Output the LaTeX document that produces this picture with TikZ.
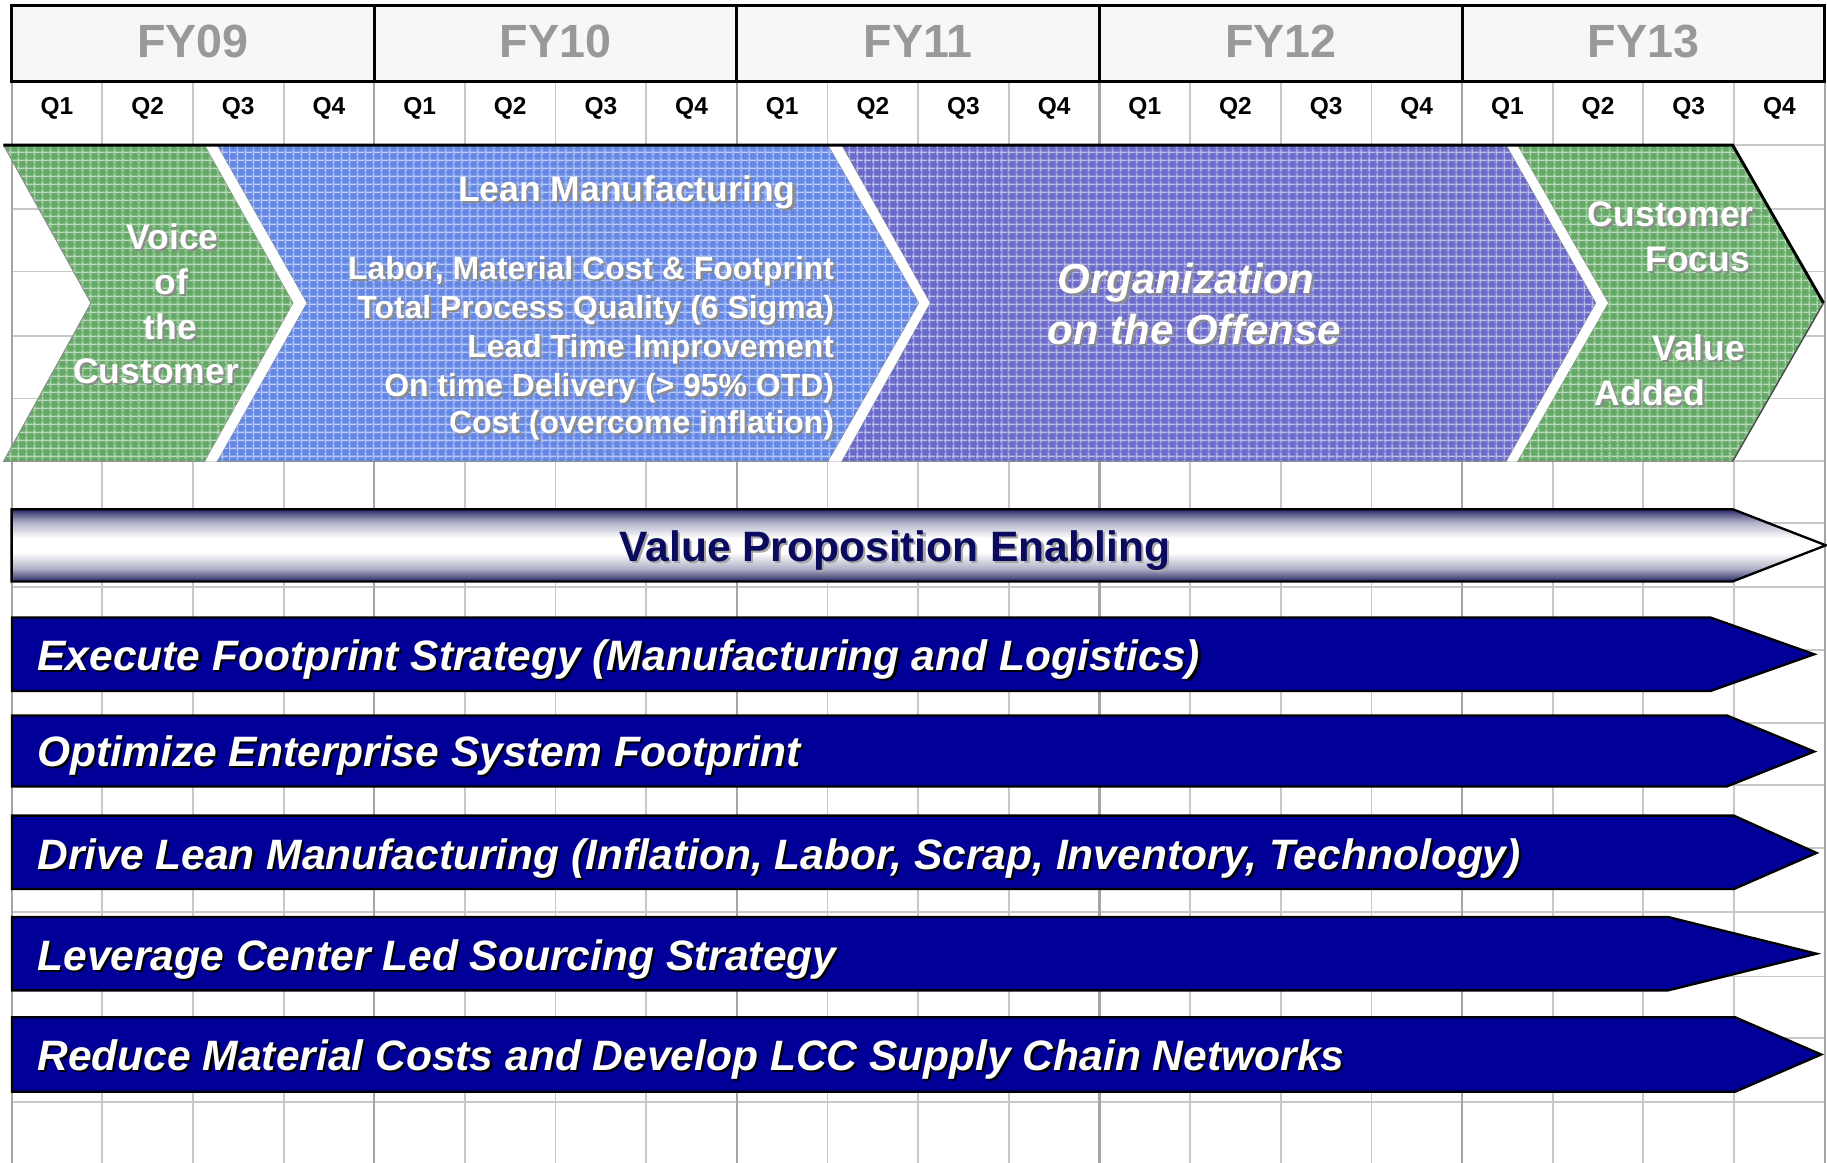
\documentclass[tikz,border=0pt]{standalone}
\usepackage{fontspec}
\setmainfont{Liberation Sans}
\usetikzlibrary{patterns.meta}

\definecolor{gridc}{HTML}{C8C8C8}
\definecolor{yearc}{HTML}{A8A4A0}
\definecolor{hdrfill}{HTML}{F7F7F7}
\definecolor{fygray}{HTML}{999999}
\definecolor{chgreen}{HTML}{64AA66}
\definecolor{chblue}{HTML}{6487E4}
\definecolor{chpurple}{HTML}{6A6ACB}
\definecolor{barblue}{HTML}{000099}
\definecolor{navytxt}{HTML}{0A0A5E}
\definecolor{vpedark}{HTML}{202060}

\pgfdeclareverticalshading{vpeshade}{100bp}{color(0bp)=(vpedark); color(25bp)=(vpedark); color(28bp)=(vpedark!75!white); color(34bp)=(vpedark!35!white); color(45bp)=(white); color(55bp)=(white); color(66bp)=(vpedark!35!white); color(72bp)=(vpedark!75!white); color(75bp)=(vpedark); color(100bp)=(vpedark)}

\newcommand\fsz[1]{\fontsize{#1}{#1}\selectfont}
% name, position, style, shadow colour, text
\newcommand\shtext[5]{%
  \node[#3, text=#4, xshift=1.8pt, yshift=-1.8pt] (#1s) at #2 {#5};
  \node[#3] (#1) at #2 {#5};}

\tikzset{
  gridline/.style={draw=gridc, line width=1.6pt},
  yearline/.style={draw=yearc, line width=1.8pt},
  fylabel/.style={font=\fsz{40}\bfseries, text=fygray, anchor=base, inner sep=0pt},
  qlabel/.style={font=\fsz{21}\bfseries, text=black, anchor=base, inner sep=0pt},
  chtxt/.style={font=\fsz{30.5}\bfseries, text=white, anchor=base, inner sep=0pt},
  leantxt/.style={font=\fsz{27.4}\bfseries, text=white, anchor=base east, inner sep=0pt},
  orgtxt/.style={font=\fsz{36}\bfseries\itshape, text=white, anchor=base, inner sep=0pt},
  bartxt/.style={font=\fsz{36.5}\bfseries\itshape, text=white, anchor=base west, inner sep=0pt},
  vpetxt/.style={font=\fsz{36.5}\bfseries, text=navytxt, anchor=base, inner sep=0pt},
  barshape/.style={fill=barblue, draw=black, line width=2pt, line join=miter},
  chevedge/.style={draw=black!45, line width=0.8pt},
}

\def\chevGA{(3,124.5) -- (176,124.5) -- (252,260) -- (176,396) -- (3,396) -- (78,260) -- cycle}
\def\chevBA{(186,124.5) -- (711,124.5) -- (789,260) -- (711,396) -- (186,396) -- (263,260) -- cycle}
\def\chevPA{(722,124.5) -- (1293,124.5) -- (1370,260) -- (1293,396) -- (722,396) -- (798,260) -- cycle}
\def\chevGB{(1302,124.5) -- (1487,124.5) -- (1565,260) -- (1487,396) -- (1302,396) -- (1380,260) -- cycle}

\begin{document}
\begin{tikzpicture}[x=1pt,y=-1pt]
\useasboundingbox (0,0) rectangle (1568,998);
\fill[white] (0,0) rectangle (1568,998);

% ---- spreadsheet grid ----
\foreach \y in {124.5,179,233,288,342,396,448.6,503.5,558,620.8,673.7,728,782.5,838,891,945.5}
  \draw[gridline] (10,\y) -- (1566,\y);
\foreach \i in {0,...,20}
  \draw[gridline] ({10+77.8*\i},70) -- ({10+77.8*\i},998);
\foreach \i in {0,4,...,20}
  \draw[yearline] ({10+77.8*\i},70) -- ({10+77.8*\i},998);

% ---- header ----
\draw[fill=hdrfill, draw=black, line width=2.5pt] (10,5) rectangle (1566,70);
\foreach \i in {1,2,3,4}
  \draw[black, line width=2.5pt] ({10+311.2*\i},5) -- ({10+311.2*\i},70);
\node[fylabel] (fy09) at (165.6,49) {FY09};
\node[fylabel] (fy10) at (476.8,49) {FY10};
\node[fylabel] (fy11) at (788.0,49) {FY11};
\node[fylabel] (fy12) at (1099.2,49) {FY12};
\node[fylabel] (fy13) at (1410.4,49) {FY13};
\foreach \i in {0,...,19}{
  \pgfmathtruncatemacro\qq{mod(\i,4)+1}
  \node[qlabel] (q\i) at ({10+77.8*(\i+0.5)},98.5) {Q\qq};
}

% ---- chevrons ----
\fill[chgreen] \chevGA;
\fill[pattern={Lines[distance=6.9pt,angle=0,line width=1.3pt]}, pattern color=chgreen!45!white] \chevGA;
\fill[pattern={Lines[distance=6.9pt,angle=90,line width=1.3pt]}, pattern color=chgreen!45!white] \chevGA;
\path[chevedge] \chevGA;

\fill[chblue] \chevBA;
\fill[pattern={Lines[distance=6.9pt,angle=0,line width=1.3pt]}, pattern color=chblue!45!white] \chevBA;
\fill[pattern={Lines[distance=6.9pt,angle=90,line width=1.3pt]}, pattern color=chblue!45!white] \chevBA;
\path[chevedge] \chevBA;

\fill[chpurple] \chevPA;
\fill[pattern={Lines[distance=6.9pt,angle=0,line width=1.3pt]}, pattern color=chpurple!45!white] \chevPA;
\fill[pattern={Lines[distance=6.9pt,angle=90,line width=1.3pt]}, pattern color=chpurple!45!white] \chevPA;
\path[chevedge] \chevPA;

\fill[chgreen] \chevGB;
\fill[pattern={Lines[distance=6.9pt,angle=0,line width=1.3pt]}, pattern color=chgreen!45!white] \chevGB;
\fill[pattern={Lines[distance=6.9pt,angle=90,line width=1.3pt]}, pattern color=chgreen!45!white] \chevGB;
\path[chevedge] \chevGB;

% white gaps between chevrons
\fill[white] (176,124.5) -- (186,124.5) -- (263,260) -- (186,396) -- (176,396) -- (252,260) -- cycle;
\fill[white] (711,124.5) -- (722,124.5) -- (798,260) -- (722,396) -- (711,396) -- (789,260) -- cycle;
\fill[white] (1293,124.5) -- (1302,124.5) -- (1380,260) -- (1302,396) -- (1293,396) -- (1370,260) -- cycle;

% top edge and right edge of the chevron band
\draw[black, line width=2.5pt] (3,124.5) -- (1487,124.5) -- (1565,260);
\draw[black!70, line width=1.2pt] (1565,260) -- (1487,396);

% chevron texts
\shtext{voice}{(148,214)}{chtxt}{black!45}{Voice}
\shtext{of}{(147,253)}{chtxt}{black!45}{of}
\shtext{the}{(146,291)}{chtxt}{black!45}{the}
\shtext{cust}{(134,329)}{chtxt}{black!45}{Customer}

\shtext{leanhd}{(538,173)}{chtxt}{black!45}{Lean Manufacturing}
\shtext{leanA}{(716,240)}{leantxt}{black!45}{Labor, Material Cost \& Footprint}
\shtext{leanB}{(716,273)}{leantxt}{black!45}{Total Process Quality (6 Sigma)}
\shtext{leanC}{(716,307)}{leantxt}{black!45}{Lead Time Improvement}
\shtext{leanD}{(716,340)}{leantxt}{black!45}{On time Delivery (> 95\% OTD)}
\shtext{leanE}{(716,372)}{leantxt}{black!45}{Cost (overcome inflation)}

\shtext{orgA}{(1018,251.5)}{orgtxt}{black!45}{Organization}
\shtext{orgB}{(1025,295.5)}{orgtxt}{black!45}{on the Offense}

\shtext{cfA}{(1434,194)}{chtxt}{black!45}{Customer}
\shtext{cfB}{(1457,233)}{chtxt}{black!45}{Focus}
\shtext{cfC}{(1458,309)}{chtxt}{black!45}{Value}
\shtext{cfD}{(1416,348)}{chtxt}{black!45}{Added}

% ---- value proposition arrow ----
\draw[shading=vpeshade, draw=black, line width=2pt, line join=miter]
  (10,437) -- (1487,437) -- (1567,468) -- (1487,499) -- (10,499) -- cycle;
\shtext{vpe}{(768,482)}{vpetxt}{black!35}{Value Proposition Enabling}

% ---- blue initiative arrows ----
\draw[barshape] (10.3,530) -- (1468,530) -- (1557,561.5) -- (1468,593) -- (10.3,593) -- cycle;
\draw[barshape] (10.3,614) -- (1482,614) -- (1557,645) -- (1482,675) -- (10.3,675) -- cycle;
\draw[barshape] (10.3,700) -- (1488,700) -- (1559,732) -- (1488,763) -- (10.3,763) -- cycle;
\draw[barshape] (10.3,787) -- (1431.5,787) -- (1559,818.5) -- (1431.5,850) -- (10.3,850) -- cycle;
\draw[barshape] (10.3,873) -- (1489,873) -- (1563,905) -- (1489,937) -- (10.3,937) -- cycle;

\shtext{exe}{(32,575.5)}{bartxt}{black}{Execute Footprint Strategy (Manufacturing and Logistics)}
\shtext{opt}{(32,658)}{bartxt}{black}{Optimize Enterprise System Footprint}
\shtext{drv}{(32,746)}{bartxt}{black}{Drive Lean Manufacturing (Inflation, Labor, Scrap, Inventory, Technology)}
\shtext{lev}{(32,833)}{bartxt}{black}{Leverage Center Led Sourcing Strategy}
\shtext{red}{(32,919)}{bartxt}{black}{Reduce Material Costs and Develop LCC Supply Chain Networks}
\end{tikzpicture}
\end{document}
